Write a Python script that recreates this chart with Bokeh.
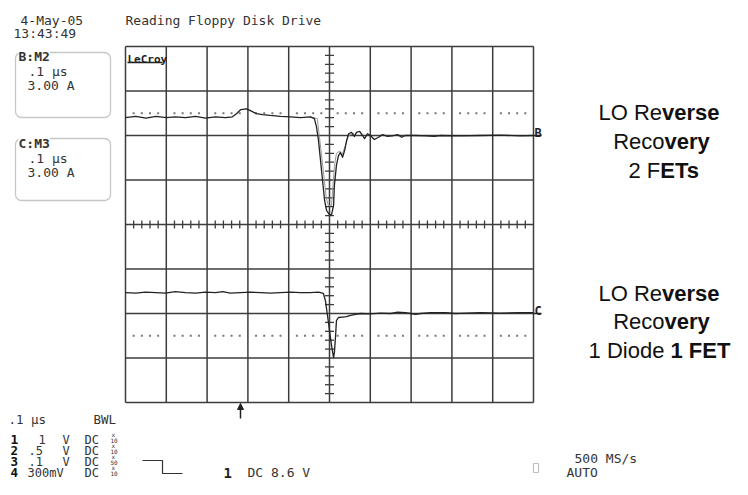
from bokeh.plotting import figure
from bokeh.models import Range1d, Label, BoxAnnotation, Arrow, NormalHead
from bokeh.embed import file_html
from bokeh.resources import INLINE

# ---------------- data (time in ns, 100 ns/div; level in screen divisions) ----------------
b_time = [-500, -475, -450, -425, -400, -378, -353, -328, -304, -279, -255, -238, -228, -218,
          -203, -194, -179, -164, -145, -120, -96, -71, -47, -37, -32, -27, -22, -17, -12, -7,
          0, 5, 10, 12, 17, 22, 27, 32, 37, 42, 47, 54, 61, 66, 74, 81, 86, 93, 100, 110, 120,
          130, 142, 154, 167, 177, 186, 211, 235, 257, 272, 321, 370, 419, 468, 500]
b_level = [2.40, 2.43, 2.39, 2.43, 2.40, 2.42, 2.40, 2.43, 2.39, 2.42, 2.40, 2.42, 2.49, 2.58,
           2.60, 2.56, 2.49, 2.47, 2.45, 2.43, 2.42, 2.40, 2.42, 2.38, 2.20, 1.89, 1.44, 0.99,
           0.54, 0.31, 0.22, 0.22, 0.43, 0.88, 1.33, 1.55, 1.62, 1.51, 1.66, 1.89, 2.04, 2.07,
           1.98, 2.07, 2.09, 2.00, 1.93, 2.04, 2.00, 1.91, 1.96, 2.02, 1.98, 1.99, 2.02, 1.96,
           2.00, 2.00, 1.99, 1.98, 2.00, 1.99, 2.00, 2.01, 1.99, 2.00]
# second (persistence) sweep of trace B around the recovery spike
b2_time = [-47, -30, -25, -15, -8, -3, 5, 8, 12, 17, 25, 30, 38, 47, 60]
b2_level = [2.42, 2.38, 2.00, 1.20, 0.60, 0.43, 0.43, 0.80, 1.30, 1.60, 1.65, 1.55, 1.75, 2.00, 2.05]

c_time = [-500, -475, -451, -426, -402, -378, -353, -328, -304, -279, -262, -243, -218, -194,
          -169, -145, -120, -96, -71, -47, -27, -15, -10, -5, 0, 5, 10, 12, 15, 17, 22, 32, 42,
          51, 64, 76, 100, 125, 150, 167, 186, 199, 211, 223, 248, 284, 309, 333, 370, 419,
          468, 500]
c_level = [-1.53, -1.54, -1.52, -1.53, -1.54, -1.51, -1.53, -1.54, -1.52, -1.53, -1.51, -1.54,
           -1.53, -1.52, -1.53, -1.54, -1.53, -1.52, -1.53, -1.53, -1.52, -1.55, -1.71, -2.04,
           -2.38, -2.72, -2.99, -2.88, -2.49, -2.16, -2.09, -2.08, -2.07, -2.04, -2.02, -2.00,
           -2.01, -1.99, -2.00, -1.97, -1.98, -2.00, -2.02, -2.00, -1.98, -1.98, -2.00, -1.99,
           -1.98, -1.99, -1.98, -1.98]

grid_times = [-500, -400, -300, -200, -100, 0, 100, 200, 300, 400, 500]
grid_levels = [-4, -3, -2, -1, 0, 1, 2, 3, 4]
ref_levels = [2.5, -2.5]          # dotted reference levels
ground_levels = [2.0, -2.0]       # channel ground markers
ground_names = ["B", "C"]

probe_rows = ["1", "2", "3", "4"]
probe_volts = ["1", ".5", ".1", "300mV"]
probe_units = ["V", "V", "V", ""]
probe_atten = ["10", "10", "50", "10"]

# ---------------- layout helpers ----------------
W, H = 732, 479
NS_PER_PX = 100 / 40.8
DIV_PER_PX = 1 / 44.5


def X(px):
    return (px - 125) * NS_PER_PX - 500


def Y(py):
    return (224 - py) * DIV_PER_PX


p = figure(width=W, height=H, x_range=Range1d(X(0), X(W)), y_range=Range1d(Y(H), Y(0)),
           output_backend="svg", toolbar_location=None, x_axis_location=None,
           y_axis_location=None, min_border=0)
p.grid.visible = False
p.outline_line_color = None
p.background_fill_color = "white"
p.border_fill_color = "white"

GRID = "#3c3c3c"
TXT = "#333333"
MONO = "DejaVu Sans Mono"

# grid
p.segment(x0=grid_times, y0=[grid_levels[0]] * len(grid_times), x1=grid_times,
          y1=[grid_levels[-1]] * len(grid_times), line_color=GRID, line_width=1.5)
p.segment(x0=[grid_times[0]] * len(grid_levels), y0=grid_levels,
          x1=[grid_times[-1]] * len(grid_levels), y1=grid_levels, line_color=GRID, line_width=1.5)

# minor ticks on the centre axes
minor_t = [t for t in range(grid_times[0], grid_times[-1] + 1, 20) if t % 100 != 0]
minor_v = [v / 5 for v in range(-20, 21) if v % 5 != 0]
th = 4 * DIV_PER_PX
tw = 4.5 * NS_PER_PX
p.segment(x0=minor_t, y0=[-th] * len(minor_t), x1=minor_t, y1=[th] * len(minor_t),
          line_color=GRID, line_width=1.3)
p.segment(x0=[-tw] * len(minor_v), y0=minor_v, x1=[tw] * len(minor_v), y1=minor_v,
          line_color=GRID, line_width=1.3)

# dotted reference levels
for lv in ref_levels:
    p.scatter(x=minor_t, y=[lv] * len(minor_t), marker="square", size=2,
              fill_color="#777777", line_color=None)

# traces
p.line(b2_time, b2_level, line_color="#9a9a9a", line_width=1.0)
p.line(b_time, b_level, line_color="#222222", line_width=1.3, line_join="round")
p.line(c_time, c_level, line_color="#222222", line_width=1.3, line_join="round")

# ground markers
p.segment(x0=[grid_times[-1]] * 2, y0=ground_levels, x1=[X(541)] * 2, y1=ground_levels,
          line_color="#222222", line_width=1.5)
for name, lv in zip(ground_names, ground_levels):
    p.add_layout(Label(x=X(534), y=lv + 3 * DIV_PER_PX, text=name, text_font=MONO,
                       text_font_size="12px", text_font_style="bold", text_color="#222222",
                       text_baseline="alphabetic"))


def lab(text, px, py, size=13, bold=False, color=TXT, font=MONO, align="left", bg=None):
    kw = dict(x=X(px), y=Y(py), text=text, text_font=font, text_font_size=f"{size}px",
              text_font_style="bold" if bold else "normal", text_color=color,
              text_align=align, text_baseline="alphabetic")
    if bg:
        kw["background_fill_color"] = bg
    p.add_layout(Label(**kw))


# LeCroy logo
lab("LeCroy", 127, 59, size=11, bold=True, color="#222222")
p.segment(x0=[X(127)], y0=[Y(62)], x1=[X(162)], y1=[Y(62)], line_color="#222222", line_width=1.6)

# header
lab("4-May-05", 20, 20)
lab("13:43:49", 13, 33)
lab("Reading Floppy Disk Drive", 125, 20)

# math trace boxes
for top, bot, title, base in [(52, 117, "B:M2", 56), (138, 200, "C:M3", 143)]:
    p.add_layout(BoxAnnotation(left=X(15), right=X(110), top=Y(top), bottom=Y(bot),
                               fill_alpha=0, line_color="#444444", line_width=1.3,
                               border_radius=6))
    lab(title, 18, base, bold=True, bg="white")
    lab(".1 μs", 28, base + 15)
    lab("3.00 A", 27, base + 29)

# channel settings (bottom left)
lab(".1 μs", 8, 419, size=12.5)
lab("BWL", 93, 419, size=12.5)
row_base = [439, 450, 461, 472]
for i, (ch, v, u, a) in enumerate(zip(probe_rows, probe_volts, probe_units, probe_atten)):
    b = row_base[i]
    lab(ch, 10, b, size=13 if i == 0 else 12.5, bold=True, color="#111111")
    vx = 38 if v == "1" else (28 if len(v) == 2 else 27)
    lab(v, vx, b, size=12)
    if u:
        lab(u, 62, b, size=12)
    lab("DC", 84, b, size=12)
    lab("x", 111, b - 5, size=6)
    lab(a, 110, b + 1, size=6)

# trigger symbol and level
p.line(x=[X(142), X(162), X(162), X(182)], y=[Y(460), Y(460), Y(473), Y(473)],
       line_color="#333333", line_width=1.2)
lab("1", 223, 472, size=14, bold=True, color="#222222")
lab("DC 8.6 V", 247, 472)

# trigger position arrow
p.add_layout(Arrow(end=NormalHead(size=6, fill_color="#222222", line_color="#222222"),
                   x_start=X(240), y_start=Y(418), x_end=X(240), y_end=Y(403),
                   line_color="#222222", line_width=1.5))

# sample rate & mode
lab("500 MS/s", 574, 458)
p.add_layout(BoxAnnotation(left=X(533), right=X(538), top=Y(463), bottom=Y(472),
                           fill_alpha=0, line_color="#333333", line_width=1.2))
lab("AUTO", 566, 472)

# annotations on the right (mixed regular / bold)
REG = {' ': 278, 'L': 556, 'O': 778, 'R': 722, 'e': 556, 'v': 500, 'r': 333, 's': 500,
       'c': 500, 'o': 556, 'y': 500, '1': 556, '2': 556, 'F': 611, 'E': 667, 'T': 611,
       'D': 722, 'i': 222, 'd': 556}
BLD = {' ': 278, 'v': 556, 'e': 556, 'r': 389, 's': 556, 'y': 556, 'E': 667, 'T': 611,
       '1': 556, 'F': 611}
FS = 22
notes = [
    ([("LO Re", False), ("verse", True)], 658.5, 112),
    ([("Reco", False), ("very", True)], 661, 141),
    ([("2 F", False), ("ETs", True)], 664, 170),
    ([("LO Re", False), ("verse", True)], 658.5, 293),
    ([("Reco", False), ("very", True)], 661, 321),
    ([("1 Diode ", False), ("1 FET", True)], 659, 350),
]
for segs, cx, base in notes:
    widths = [sum((BLD if bd else REG)[ch] for ch in s) * FS / 1000 for s, bd in segs]
    x0 = cx - sum(widths) / 2
    for (s, bd), w in zip(segs, widths):
        lab(s, x0, base, size=FS, bold=bd, color="#111111", font="Liberation Sans")
        x0 += w

open("out.html", "w").write(file_html(p, INLINE))
